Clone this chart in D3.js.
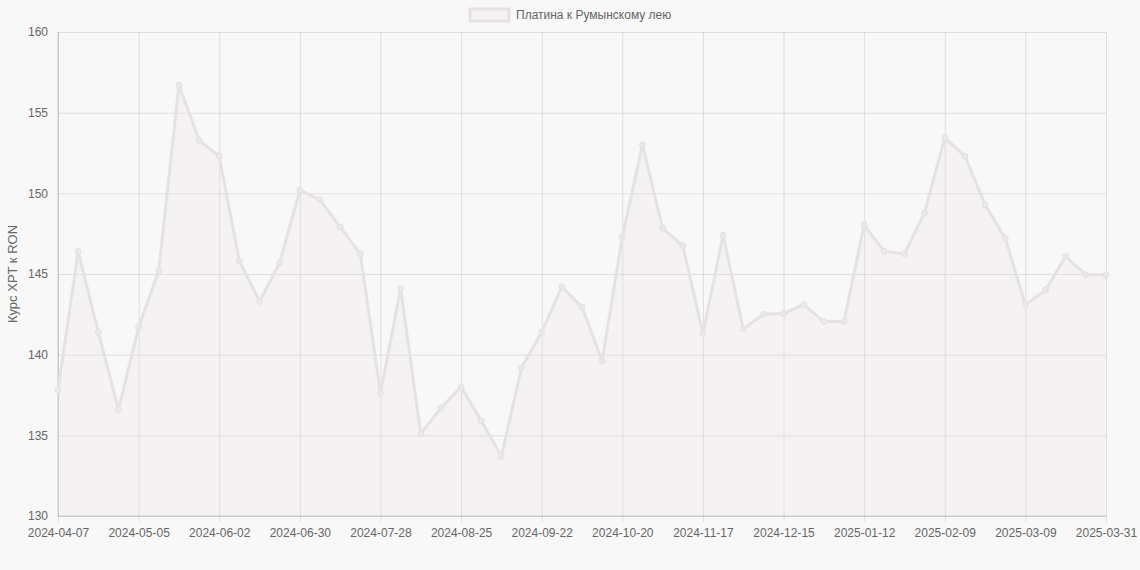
<!DOCTYPE html>
<html><head><meta charset="utf-8">
<script src="https://cdn.jsdelivr.net/npm/d3@7"></script>
<style>
html,body{margin:0;padding:0;background:#f8f8f8;}
svg{display:block;font-family:"Liberation Sans",Arial,Helvetica,sans-serif;}
</style></head>
<body><svg id="c" width="1140" height="570"></svg>
<script>
const labels = ["2024-04-07","2024-04-14","2024-04-21","2024-04-28","2024-05-05","2024-05-12","2024-05-19","2024-05-26","2024-06-02","2024-06-09","2024-06-16","2024-06-23","2024-06-30","2024-07-07","2024-07-14","2024-07-21","2024-07-28","2024-08-04","2024-08-11","2024-08-18","2024-08-25","2024-09-01","2024-09-08","2024-09-15","2024-09-22","2024-09-29","2024-10-06","2024-10-13","2024-10-20","2024-10-27","2024-11-03","2024-11-10","2024-11-17","2024-11-24","2024-12-01","2024-12-08","2024-12-15","2024-12-22","2024-12-29","2025-01-05","2025-01-12","2025-01-19","2025-01-26","2025-02-02","2025-02-09","2025-02-16","2025-02-23","2025-03-02","2025-03-09","2025-03-16","2025-03-23","2025-03-30","2025-03-31"];
const values = [137.8,146.4,141.4,136.6,141.7,145.2,156.7,153.3,152.3,145.8,143.3,145.7,150.2,149.6,147.9,146.25,137.6,144.1,135.1,136.7,138.0,135.9,133.7,139.2,141.4,144.2,142.95,139.6,147.3,153.0,147.85,146.75,141.3,147.4,141.6,142.5,142.55,143.1,142.05,142.05,148.05,146.4,146.25,148.8,153.45,152.3,149.3,147.2,143.1,144.0,146.1,144.95,144.95];
const yTicks = [130,135,140,145,150,155,160];
const seriesName = "Платина к Румынскому лею";
const yTitle = "Курс XPT к RON";

const svg = d3.select("#c");
const L=58, R=1106, T=32, B=516;
const x = d3.scalePoint().domain(d3.range(labels.length)).range([L,R]);
const y = d3.scaleLinear().domain([130,160]).range([B,T]);
const uniq = Array.from(new Set(d3.range(0,labels.length,4).concat([labels.length-1])));

const grid = "rgba(0,0,0,0.1)";
const ya = d3.axisLeft(y).tickValues(yTicks).tickSize(-(R-L)).tickPadding(10).tickFormat(d3.format("d"));
const gy = svg.append("g").attr("transform",`translate(${L},0)`).call(ya);
gy.select(".domain").remove();
gy.selectAll("line").attr("stroke",grid);
gy.selectAll("text").attr("fill","#666").style("font-size","12px");

const xa = d3.axisBottom(x).tickValues(uniq).tickSize(-(B-T)).tickPadding(12).tickFormat(i=>labels[i]);
const gx = svg.append("g").attr("transform",`translate(0,${B})`).call(xa);
gx.select(".domain").remove();
gx.selectAll("line").attr("stroke",grid).attr("y2",-(B-T)).attr("y1",6);
gx.selectAll("text").attr("fill","#666").style("font-size","12px");

svg.append("line").attr("x1",L).attr("x2",L).attr("y1",T).attr("y2",B).attr("stroke","rgba(0,0,0,0.18)");
svg.append("line").attr("x1",L).attr("x2",R).attr("y1",B).attr("y2",B).attr("stroke","rgba(0,0,0,0.18)");

const col = "#e6e2e2";
const area = d3.area().x((d,i)=>x(i)).y0(B).y1(d=>y(d));
svg.append("path").datum(values).attr("d",area).attr("fill","rgba(230,220,222,0.2)");
const line = d3.line().x((d,i)=>x(i)).y(d=>y(d));
svg.append("path").datum(values).attr("d",line).attr("fill","none").attr("stroke",col).attr("stroke-width",3).attr("stroke-linejoin","round");
svg.append("g").selectAll("circle").data(values).join("circle")
  .attr("cx",(d,i)=>x(i)).attr("cy",d=>y(d)).attr("r",3)
  .attr("fill","#ebe8e8").attr("stroke",col).attr("stroke-width",1);

svg.append("rect").attr("x",470).attr("y",9).attr("width",39).attr("height",12)
  .attr("fill","rgba(230,220,222,0.2)").attr("stroke",col).attr("stroke-width",3);
svg.append("text").attr("x",516).attr("y",19).attr("fill","#666").style("font-size","12px").text(seriesName);

svg.append("text").attr("transform",`translate(17,${(T+B)/2}) rotate(-90)`).attr("text-anchor","middle")
  .attr("fill","#666").style("font-size","13px").text(yTitle);
</script></body></html>
